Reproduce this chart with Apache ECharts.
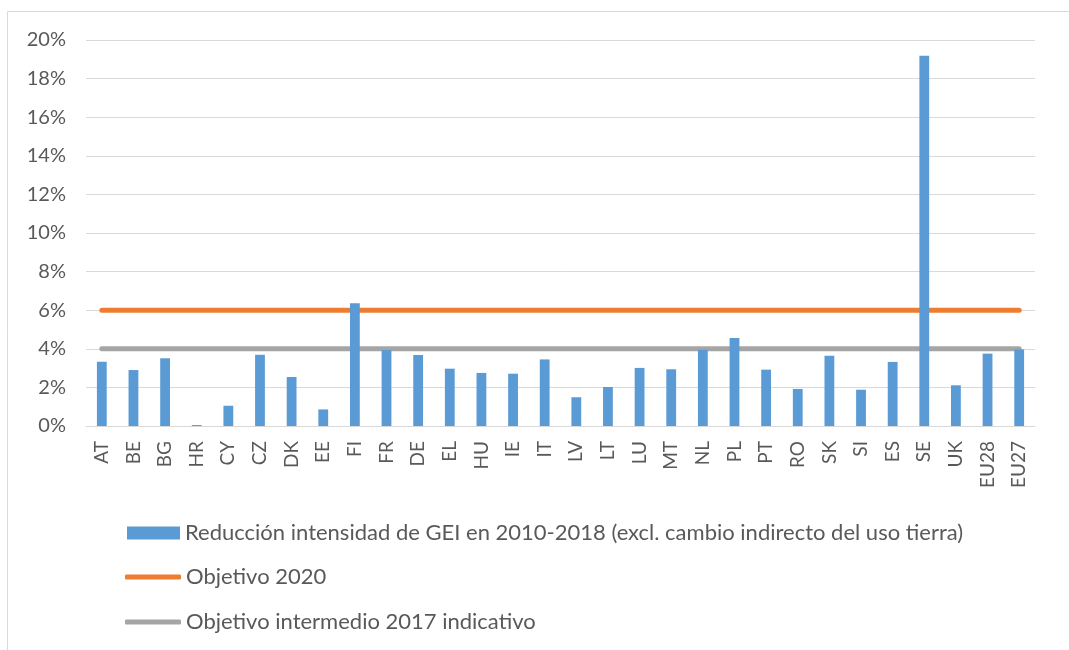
<!DOCTYPE html>
<html>
<head>
<meta charset="utf-8">
<script src="https://cdn.jsdelivr.net/npm/echarts@6/dist/echarts.min.js"></script>
<style>
  html, body { margin: 0; padding: 0; background: #fff; }
  #chart { width: 1069px; height: 650px; }
</style>
</head>
<body>
<div id="chart"></div>
<script>
var countries = ['AT', 'BE', 'BG', 'HR', 'CY', 'CZ', 'DK', 'EE', 'FI', 'FR', 'DE', 'EL', 'HU', 'IE', 'IT',
    'LV', 'LT', 'LU', 'MT', 'NL', 'PL', 'PT', 'RO', 'SK', 'SI', 'ES', 'SE', 'UK', 'EU28', 'EU27'];

// reduccion intensidad GEI 2010-2018 (%)
var reduccion = [3.33, 2.90, 3.51, 0.05, 1.05, 3.69, 2.54, 0.86, 6.36, 3.94, 3.68, 2.97, 2.75, 2.71, 3.45,
    1.49, 2.02, 3.01, 2.94, 3.95, 4.56, 2.92, 1.92, 3.64, 1.88, 3.32, 19.19, 2.11, 3.75, 3.97];
var objetivo2020 = 6;
var objetivo2017 = 4;

var nombreBar = 'Reducción intensidad de GEI en 2010-2018 (excl. cambio indirecto del uso tierra)';
var nombre2020 = 'Objetivo 2020';
var nombre2017 = 'Objetivo intermedio 2017 indicativo';

var font = 'Lato, "Open Sans", sans-serif';

var chart = echarts.init(document.getElementById('chart'));
var legendText = {color: '#595959', fontSize: 22, lineHeight: 22, fontFamily: font};
var option = {
    animation: false,
    textStyle: {fontFamily: font},
    graphic: [{
        type: 'rect',
        shape: {x: 7.5, y: 11.5, width: 1200, height: 800},
        style: {fill: 'none', stroke: '#d9d9d9', lineWidth: 1},
        silent: true
    }],
    grid: {left: 86, right: 34, top: 40, bottom: 224, containLabel: false},
    legend: [
        {
            orient: 'vertical',
            left: 122,
            top: 517,
            itemWidth: 53,
            itemHeight: 13,
            textStyle: legendText,
            data: [{name: nombreBar, icon: 'rect'}]
        },
        {
            orient: 'vertical',
            left: 120,
            top: 561,
            itemWidth: 56,
            itemHeight: 5,
            itemGap: 23,
            textStyle: legendText,
            data: [
                {name: nombre2020, icon: 'roundRect'},
                {name: nombre2017, icon: 'roundRect'}
            ]
        }
    ],
    xAxis: {
        type: 'category',
        data: countries,
        axisLine: {lineStyle: {color: '#d9d9d9'}},
        axisTick: {show: false},
        axisLabel: {rotate: 90, color: '#595959', fontSize: 19, margin: 15, interval: 0}
    },
    yAxis: {
        type: 'value',
        min: 0,
        max: 20,
        interval: 2,
        axisLine: {show: false},
        axisTick: {show: false},
        splitLine: {lineStyle: {color: '#d9d9d9', width: 1}},
        axisLabel: {color: '#595959', fontSize: 20, margin: 20, formatter: '{value}%'}
    },
    series: [
        {
            name: nombreBar,
            type: 'bar',
            data: reduccion,
            barWidth: '31%',
            z: 3,
            itemStyle: {color: '#5B9BD5'}
        },
        {
            name: nombre2020,
            type: 'line',
            data: countries.map(function () { return objetivo2020; }),
            symbol: 'none',
            z: 2,
            itemStyle: {color: '#ED7D31'},
            lineStyle: {color: '#ED7D31', width: 5, cap: 'round'}
        },
        {
            name: nombre2017,
            type: 'line',
            data: countries.map(function () { return objetivo2017; }),
            symbol: 'none',
            z: 2,
            itemStyle: {color: '#A5A5A5'},
            lineStyle: {color: '#A5A5A5', width: 5, cap: 'round'}
        }
    ]
};
chart.setOption(option);
</script>
</body>
</html>
